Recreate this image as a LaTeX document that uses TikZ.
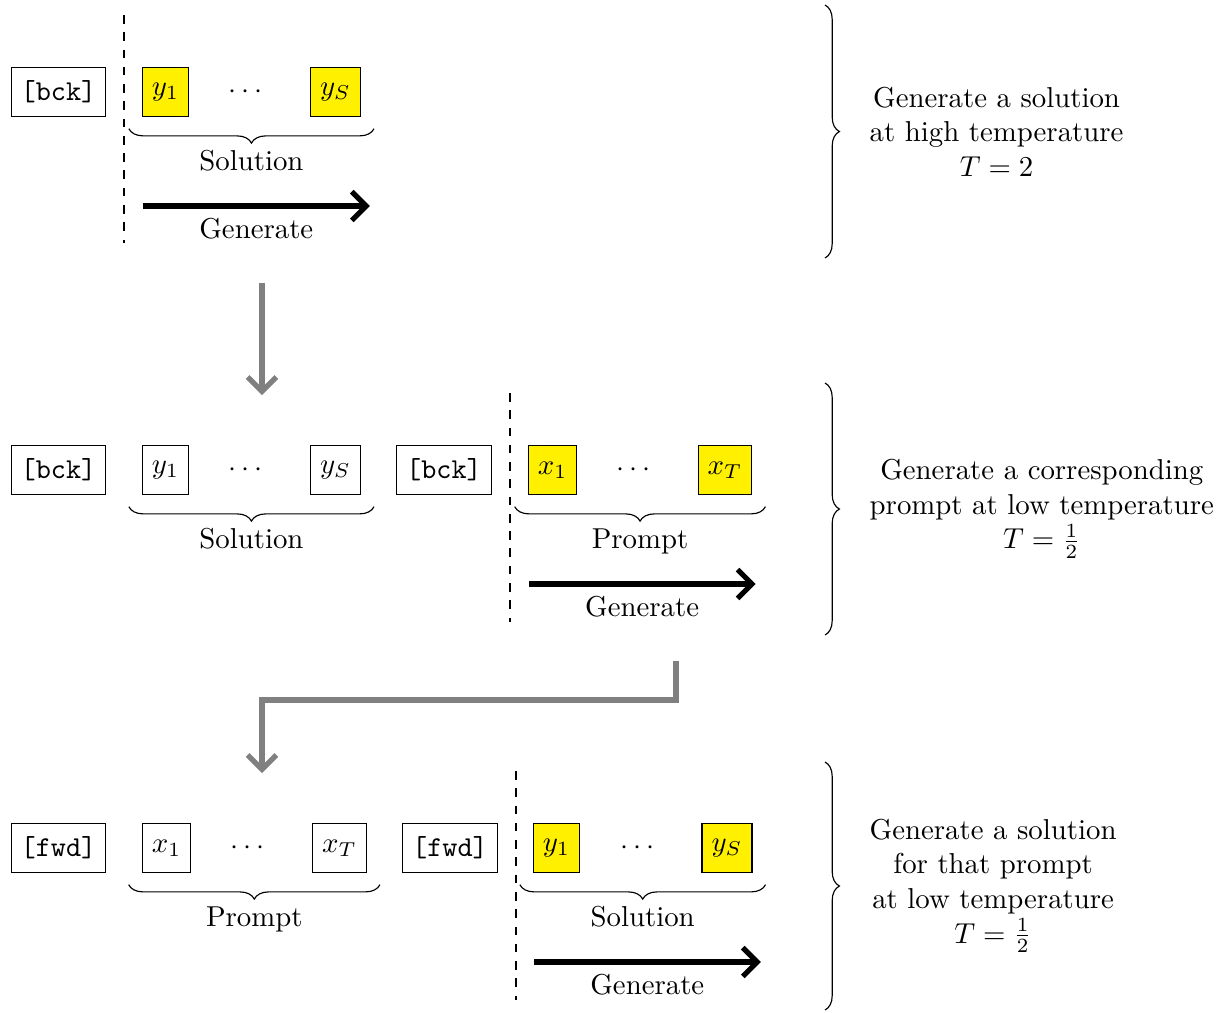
\documentclass[tikz,border=0pt]{standalone}
\usepackage{amsmath}
\usepackage{tikz}
\usetikzlibrary{arrows.meta, calc, decorations.pathreplacing}

\definecolor{tokenyellow}{RGB}{255,240,0}

\begin{document}
\begin{tikzpicture}[x=0.0122cm, y=-0.0122cm]
	\tikzstyle{tag} = [rectangle, minimum height=0.6cm, text centered, draw=black]
	\tikzstyle{token} = [rectangle, minimum height=0.6cm, text centered, draw=black]
	\tikzstyle{hot} = [token, fill=tokenyellow]
	\tikzstyle{arrow} = [line width=1.8pt, -{Straight Barb[length=5pt, width=10pt]}]
	\tikzstyle{flow} = [line width=1.8pt, -{Straight Barb[length=5pt, width=10pt]}, draw=gray]
	\tikzstyle{under} = [decorate, decoration={brace, mirror, amplitude=5pt}]
	\tikzstyle{side} = [decorate, decoration={brace, amplitude=5pt}]
	\useasboundingbox (0,0) rectangle (1232,1012);
	% row 1: solution at high temperature
	\node (bckA) [tag] at (58.5,92) {\texttt{[bck]}};
	\node (yFirstA) [hot] at (165.5,92) {$y_1$};
	\node (dotsA) at (248,92) {$\cdots$};
	\node (yLastA) [hot] at (335.5,92) {$y_S$};
	\draw [dashed] (124,15) -- (124,243);
	\draw [under] ([xshift=-4.5pt, yshift=-4pt]yFirstA.south west) -- ([xshift=4.5pt, yshift=-4pt]yLastA.south east) node [midway, below=4pt] {Solution};
	\draw [arrow] ($(yFirstA.west)+(1,114)$) -- ++(227,0) node [midway, below] {Generate};
	\draw [side] (825,5) -- (825,258) node [midway, right=12pt, align=center] {Generate a solution\\at high temperature\\$T=2$};
	% row 2: prompt at low temperature
	\node (bckB) [tag] at (58.5,470) {\texttt{[bck]}};
	\node (yFirstB) [token] at (165.5,470) {$y_1$};
	\node (dotsB) at (248,470) {$\cdots$};
	\node (yLastB) [token] at (335.5,470) {$y_S$};
	\node (bckC) [tag] at (444,470) {\texttt{[bck]}};
	\node (xFirstC) [hot] at (552.5,470) {$x_1$};
	\node (dotsC) at (636,470) {$\cdots$};
	\node (xLastC) [hot] at (725,470) {$x_T$};
	\draw [dashed] (510,393) -- (510,622);
	\draw [under] ([xshift=-4.5pt, yshift=-4pt]yFirstB.south west) -- ([xshift=4.5pt, yshift=-4pt]yLastB.south east) node [midway, below=4pt] {Solution};
	\draw [under] ([xshift=-4.5pt, yshift=-4pt]xFirstC.south west) -- ([xshift=4.5pt, yshift=-4pt]xLastC.south east) node [midway, below=4pt] {Prompt};
	\draw [arrow] ($(xFirstC.west)+(1,114)$) -- ++(227,0) node [midway, below] {Generate};
	\draw [side] (825,383) -- (825,635) node [midway, right=12pt, align=center] {Generate a corresponding\\prompt at low temperature\\$T=\frac{1}{2}$};
	% row 3: solution for that prompt
	\node (fwdA) [tag] at (58.5,848) {\texttt{[fwd]}};
	\node (xFirstD) [token] at (166.5,848) {$x_1$};
	\node (dotsD) at (250,848) {$\cdots$};
	\node (xLastD) [token] at (339.5,848) {$x_T$};
	\node (fwdB) [tag] at (450,848) {\texttt{[fwd]}};
	\node (yFirstE) [hot] at (556.5,848) {$y_1$};
	\node (dotsE) at (640,848) {$\cdots$};
	\node (yLastE) [hot] at (727,848) {$y_S$};
	\draw [dashed] (516,771) -- (516,1000);
	\draw [under] ([xshift=-4.5pt, yshift=-4pt]xFirstD.south west) -- ([xshift=4.5pt, yshift=-4pt]xLastD.south east) node [midway, below=4pt] {Prompt};
	\draw [under] ([xshift=-4.5pt, yshift=-4pt]yFirstE.south west) -- ([xshift=4.5pt, yshift=-4pt]yLastE.south east) node [midway, below=4pt] {Solution};
	\draw [arrow] ($(yFirstE.west)+(1,114)$) -- ++(227,0) node [midway, below] {Generate};
	\draw [side] (825,762) -- (825,1010) node [midway, right=12pt, align=center] {Generate a solution\\for that prompt\\at low temperature\\$T=\frac{1}{2}$};
	% steps between rows
	\coordinate (stepOneTop) at (262,283);
	\coordinate (stepOneEnd) at (262,395);
	\coordinate (stepTwoTop) at (676,661);
	\coordinate (stepTwoBend) at (676,700);
	\coordinate (stepTwoEnd) at (262,773);
	\draw [flow] (stepOneTop) -- (stepOneEnd);
	\draw [flow] (stepTwoTop) -- (stepTwoBend) -| (stepTwoEnd);
\end{tikzpicture}
\end{document}
